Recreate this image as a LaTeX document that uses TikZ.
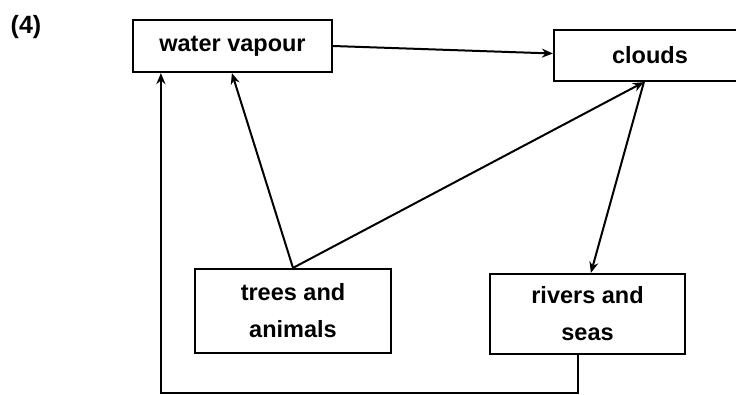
\documentclass[tikz,border=0pt]{standalone}
\usepackage{fontspec}
\setmainfont{Liberation Sans}
\usetikzlibrary{arrows.meta}
\begin{document}
\begin{tikzpicture}[x=1pt,y=-1pt,
  box/.style={draw, line width=2.2pt, inner sep=0pt, align=center,
    font=\bfseries\fontsize{23.5}{37}\selectfont},
  arr/.style={line width=2pt, -{Stealth[length=11pt,width=9pt]}}]
\useasboundingbox (0,0) rectangle (736,394);
\clip (0,0) rectangle (736,394);
\node[font=\bfseries\fontsize{25}{28}\selectfont] (lab) at (26,27) {(4)};
\node[box, minimum width=199pt, minimum height=52pt] (wv) at (232.5,46) {water vapour};
\node[box, minimum width=192pt, minimum height=51pt] (clouds) at (650,55.5) {clouds};
\node[box, minimum width=196pt, minimum height=84pt] (trees) at (293,311) {trees and\\animals};
\node[box, minimum width=195pt, minimum height=80pt] (rivers) at (587.5,314) {rivers and\\seas};
\coordinate (cb) at ([xshift=91pt]clouds.south west);
\coordinate (wvb) at ([xshift=100pt]wv.south west);
\coordinate (wvl) at ([xshift=29pt]wv.south west);
\coordinate (rt) at ([xshift=102pt]rivers.north west);
\coordinate (rb) at ([xshift=89pt]rivers.south west);
\draw[arr] (wv.east) -- ([yshift=2pt]clouds.west);
\draw[arr] (trees.north) -- (wvb);
\draw[arr] (trees.north) -- (cb);
\draw[arr] (cb) -- (rt);
\draw[arr] (rb) -- ++(0,38) -| (wvl);
\end{tikzpicture}
\end{document}
